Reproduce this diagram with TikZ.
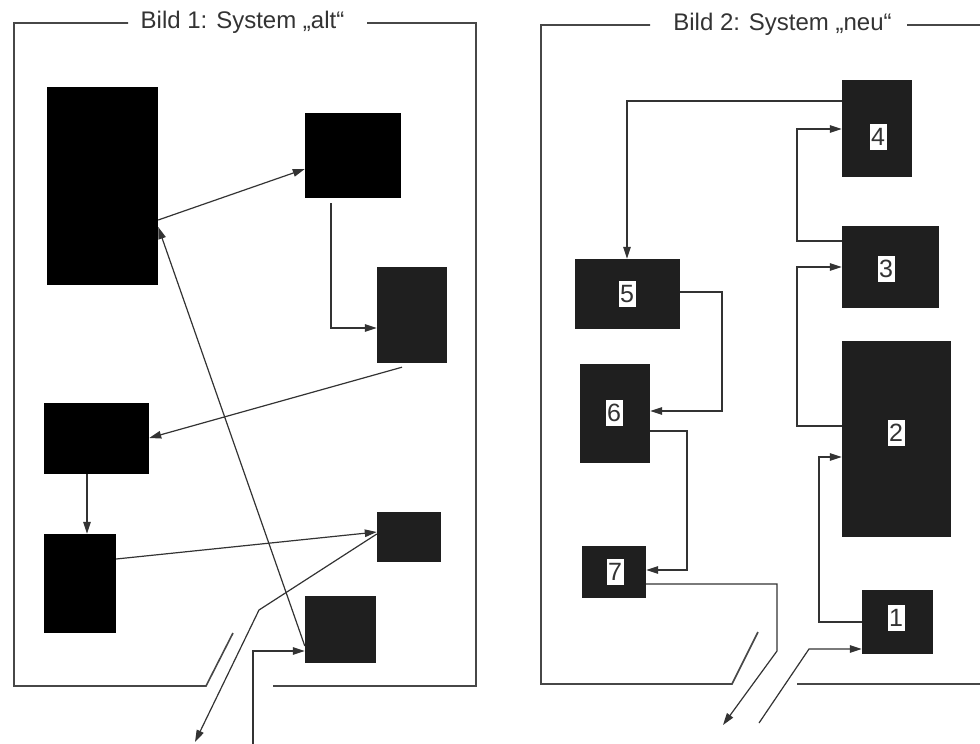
\documentclass[tikz,border=0pt]{standalone}
\usepackage{fontspec}
\setmainfont{Liberation Sans}
\usetikzlibrary{arrows.meta,calc}

\tikzset{
  frameline/.style={draw=black!72, line width=1.6pt, line join=miter},
  blk/.style={rectangle, fill=black, draw=none, inner sep=0pt},
  blkg/.style={rectangle, fill=black!88, draw=none, inner sep=0pt},
  numlbl/.style={rectangle, fill=white, draw=none, inner sep=0pt,
    minimum width=17pt, minimum height=26pt,
    font=\fontsize{25}{25}\selectfont, text=black!80},
  conn/.style={draw=black!80, line width=1.2pt},
  arr/.style={conn, -{Triangle[length=12pt,width=7.5pt]}},
  titletext/.style={font=\fontsize{24}{26}\selectfont, text=black!80,
    inner sep=0pt, anchor=base}
}

\begin{document}
\begin{tikzpicture}[x=1pt, y=-1pt]
  \useasboundingbox (0,0) rectangle (980,744);

  % ---------------- System "alt" ----------------
  \node[titletext] (t1) at (242.5,28) {Bild 1: System „alt“};
  \draw[frameline] (128,23) -- (14,23) -- (14,686) -- (206,686) -- (233,633);
  \draw[frameline] (367,23) -- (476,23) -- (476,686) -- (273,686);

  \node[blk, minimum width=111pt, minimum height=198pt] (A) at (102.5,186) {};
  \node[blk, minimum width=96pt, minimum height=85pt] (B) at (353,155.5) {};
  \node[blkg, minimum width=70pt, minimum height=96pt] (C) at (412,315) {};
  \node[blk, minimum width=105pt, minimum height=71pt] (D) at (96.5,438.5) {};
  \node[blk, minimum width=72pt, minimum height=99pt] (E) at (80,583.5) {};
  \node[blkg, minimum width=64pt, minimum height=50pt] (F) at (409,537) {};
  \node[blkg, minimum width=71pt, minimum height=67pt] (G) at (340.5,629.5) {};

  \coordinate (bendL) at (259,610);
  \coordinate (outL) at (195,742);
  \coordinate (inL) at (253,744);

  \draw[arr] (A.east |- 0,220) -- (B.west |- 0,169);
  \draw[arr] (G.west |- 0,646) -- (A.east |- 0,227);
  \draw[arr] ($(B.south -| 331,0)+(0,5)$) |- (C.west |- 0,328);
  \draw[arr] ($(C.south -| 402,0)+(0,4)$) -- (D.east |- 0,438);
  \draw[arr] (D.south -| 87,0) -- (E.north -| 87,0);
  \draw[arr] (E.east |- 0,559) -- (F.west |- 0,532);
  \draw[arr] (F.west |- 0,534) -- (bendL) -- (outL);
  \draw[arr] (inL) |- (G.west |- 0,651);

  % ---------------- System "neu" ----------------
  \node[titletext] (t2) at (782.5,30) {Bild 2: System „neu“};
  \draw[frameline] (650,25) -- (541,25) -- (541,684) -- (732,684) -- (758,632);
  \draw[frameline] (907,25) -- (980,25);
  \draw[frameline] (797,684) -- (980,684);

  \node[blkg, minimum width=70pt, minimum height=97pt] (n4) at (877,128.5) {};
  \node[blkg, minimum width=97pt, minimum height=82pt] (n3) at (890.5,267) {};
  \node[blkg, minimum width=109pt, minimum height=196pt] (n2) at (896.5,439) {};
  \node[blkg, minimum width=105pt, minimum height=70pt] (n5) at (627.5,294) {};
  \node[blkg, minimum width=70pt, minimum height=99pt] (n6) at (615,413.5) {};
  \node[blkg, minimum width=64pt, minimum height=52pt] (n7) at (614,572) {};
  \node[blkg, minimum width=71pt, minimum height=64pt] (n1) at (897.5,622) {};

  \node[numlbl] (l4) at (878,137) {4};
  \node[numlbl] (l3) at (886,269) {3};
  \node[numlbl] (l2) at (896,433) {2};
  \node[numlbl] (l5) at (627,294) {5};
  \node[numlbl] (l6) at (614,413) {6};
  \node[numlbl] (l7) at (615,572) {7};
  \node[numlbl] (l1) at (896,618) {1};

  \coordinate (bendR) at (777,651);
  \coordinate (outR) at (723,725);
  \coordinate (inR) at (759,723);
  \coordinate (bendRin) at (809,649);

  \draw[arr] (n4.west |- 0,101) -| (n5.north -| 627,0);
  \draw[arr] (n3.west |- 0,241) -- (797,241) -- (797,129) -- (n4.west |- 0,129);
  \draw[arr] (n2.west |- 0,426) -- (797,426) -- (797,267) -- (n3.west |- 0,267);
  \draw[arr] (n1.west |- 0,622) -- (819,622) -- (819,457) -- (n2.west |- 0,457);
  \draw[arr] (n5.east |- 0,292) -- (722,292) -- (722,411) -- (n6.east |- 0,411);
  \draw[arr] (n6.east |- 0,431) -- (687,431) -- (687,570) -- (n7.east |- 0,570);
  \draw[arr] (n7.east |- 0,584) -| (bendR) -- (outR);
  \draw[arr] (inR) -- (bendRin) -- (n1.west |- 0,649);
\end{tikzpicture}
\end{document}
